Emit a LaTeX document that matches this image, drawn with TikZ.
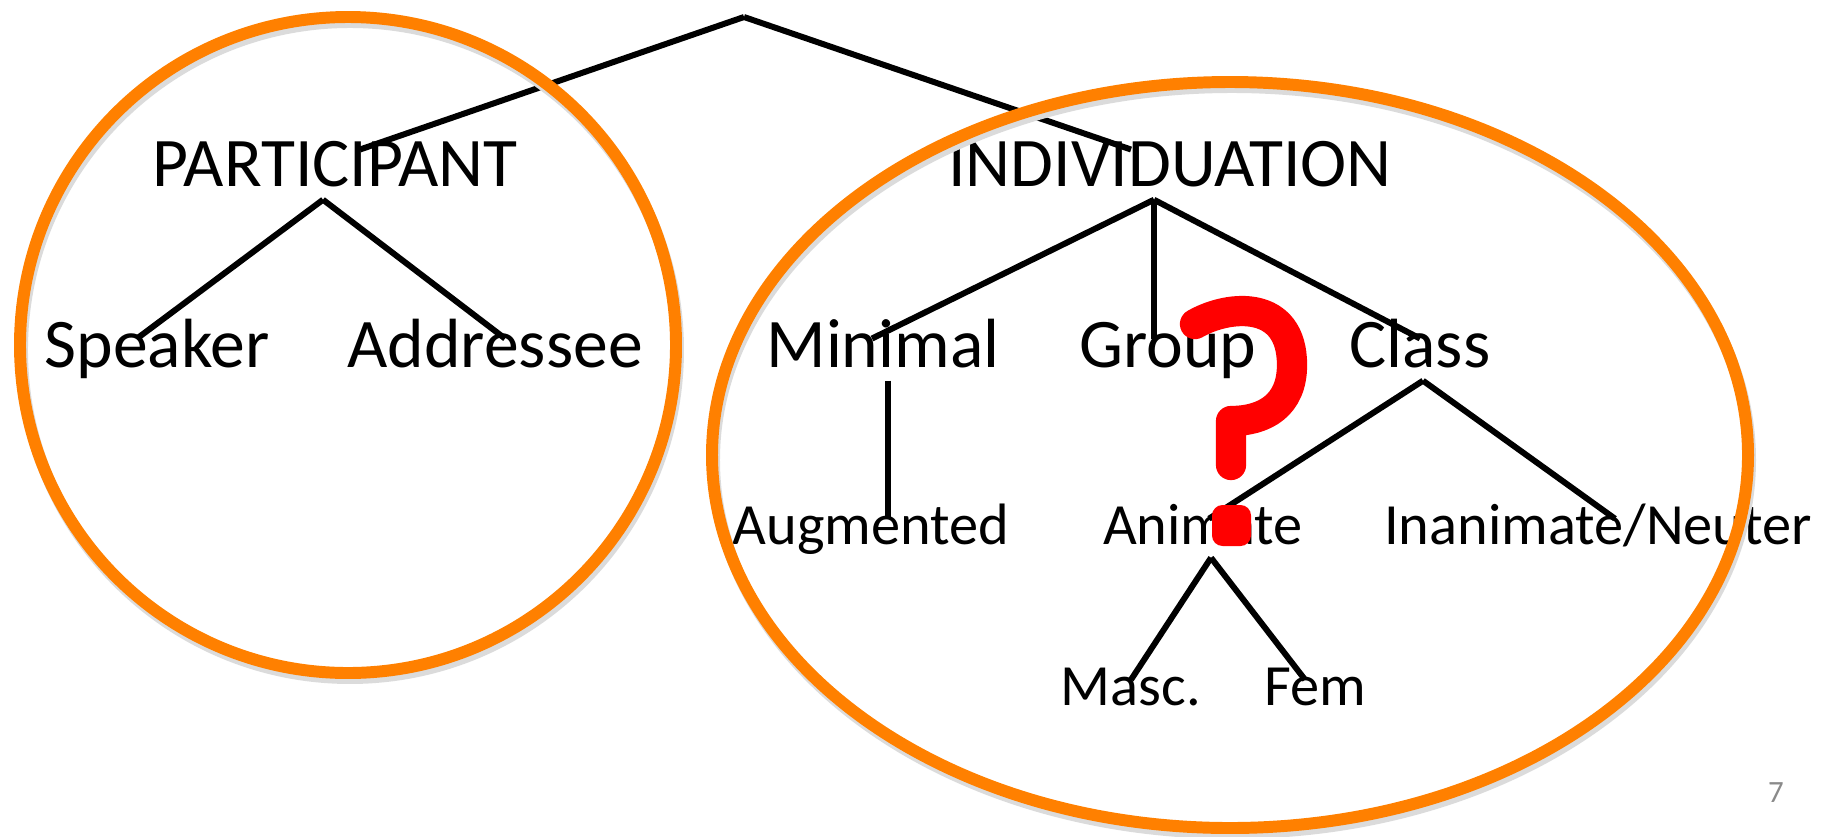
\documentclass[tikz,border=0pt]{standalone}
\usepackage{fontspec}
\setmainfont{Carlito}
\usetikzlibrary{positioning}
\usetikzlibrary{calc}
\definecolor{ringorange}{RGB}{255,128,0}
\tikzstyle{bigword}=[anchor=base,inner sep=1.5pt,text height=0.64em,text depth=0.22em,font=\fontsize{19.8}{24}\selectfont]
\tikzstyle{smallword}=[anchor=base,inner sep=1.5pt,text height=0.55em,text depth=0.22em,font=\fontsize{16.6}{20}\selectfont]
\tikzstyle{branch} = [draw,line width=1.7pt]
\tikzstyle{ring} = [draw=ringorange,line width=3.4pt]
\tikzstyle{ringshadow} = [draw=black!14,line width=3.4pt]
\tikzstyle{query} = [draw=red,line width=8.6pt,line cap=round,line join=round]

\begin{document}
\begin{tikzpicture}[x=0.01cm,y=-0.01cm]
    \useasboundingbox (0,0) rectangle (1822,836);

    \coordinate (root) at (744,17);

    \foreach \pos/\name/\txt in {{(335,186)/part/PARTICIPANT}, {(1170,186)/ind/INDIVIDUATION}, {(157,367)/spk/Speaker}, {(495,367)/adr/Addressee}, {(883,367)/mini/Minimal}, {(1168,367)/grp/Group}, {(1420,367)/cls/Class}}
        \node[bigword] (\name) at \pos {\txt};

    \foreach \pos/\name/\txt in {{(871,544)/aug/Augmented}, {(1203,544)/anim/Animate}, {(1598,544)/inan/{Inanimate/Neuter}}, {(1131,705)/masc/Masc.}, {(1315,705)/fem/Fem}}
        \node[smallword] (\name) at \pos {\txt};

    \path[branch] (root) -- ($(part.north)+(25,-8)$);
    \path[branch] (root) -- ($(ind.north)+(-39,-8)$);
    \foreach \source/\sx/\dest/\dx in {part/-12/spk/-20, part/-12/adr/10, ind/-16/mini/-11, ind/-16/grp/-14, ind/-16/cls/0, cls/3/anim/6, cls/3/inan/17, anim/8/masc/0, anim/8/fem/-10}
        \path[branch] ($(\source.south)+(\sx,0)$) -- ($(\dest.north)+(\dx,0)$);
    \path[branch] ($(mini.south)+(5,0)$) -- ($(mini.south |- aug.north)+(5,0)$);

    \node[anchor=base,text=black!46,font=\fontsize{8.8}{10}\selectfont] (pagenum) at (1776,802) {7};

    % the two rings
    \path[ringshadow] (350,350) ellipse [x radius=328, y radius=328];
    \path[ring] (348,345) ellipse [x radius=328, y radius=328];
    \path[ringshadow] (1232,460) ellipse [x radius=518, y radius=373];
    \path[ring] (1230,455) ellipse [x radius=518, y radius=373];

    % question mark
    \path[query] (1195,324) .. controls (1230,304) and (1292,300) .. (1292,365) .. controls (1292,405) and (1265,421) .. (1231,421) -- (1231,465);
    \path[fill=red,rounded corners=3pt] (1212,505) rectangle (1251,546);

\end{tikzpicture}
\end{document}
